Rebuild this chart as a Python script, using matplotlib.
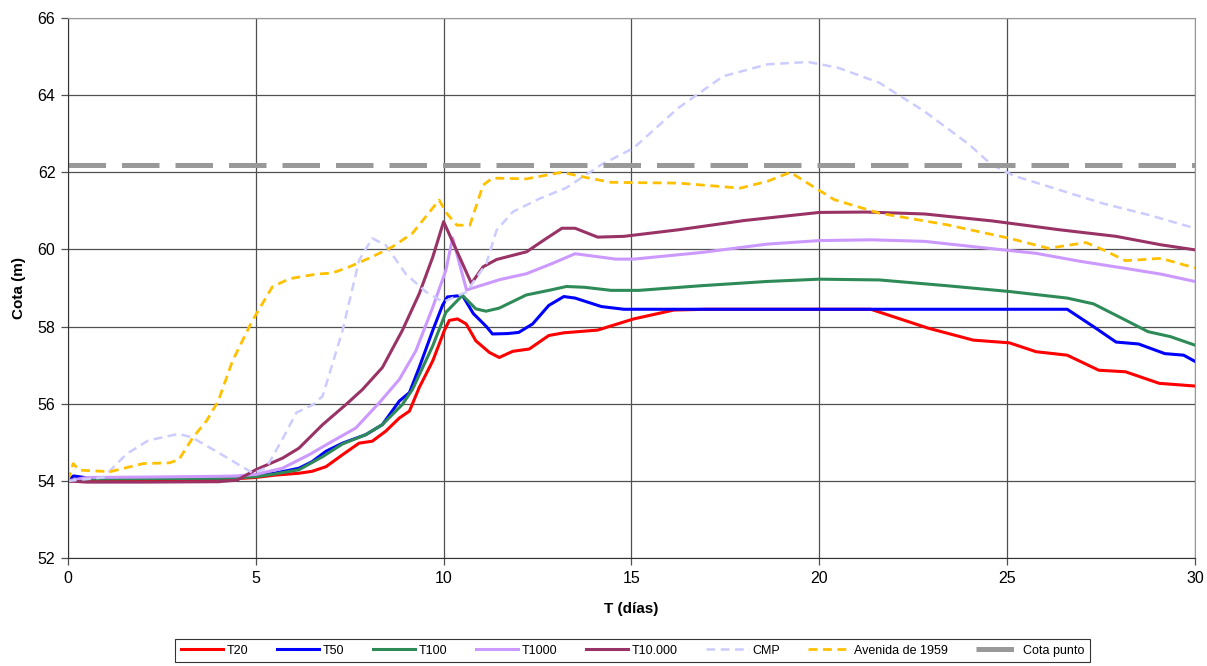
import matplotlib
matplotlib.use("Agg")
import matplotlib.pyplot as plt

plt.rcParams["font.family"] = ["Liberation Sans", "DejaVu Sans"]

# T20
t20_x = [0, 0.5, 2, 4, 4.5, 5, 5.5, 6.15, 6.5, 6.87, 7.31, 7.75, 8.1, 8.46, 8.82, 9.09, 9.35, 9.71,
         10.02, 10.15, 10.37, 10.6, 10.86, 11.22, 11.48, 11.84, 12.28, 12.8, 13.2, 14.1, 15.06, 16.13,
         17, 21.37, 22.9, 24.1, 25.06, 25.77, 26.6, 27.44, 28.15, 29.05, 30]
t20_y = [54.0, 54.02, 54.03, 54.04, 54.06, 54.09, 54.15, 54.2, 54.25, 54.37, 54.68, 54.98, 55.03, 55.29,
         55.63, 55.81, 56.42, 57.11, 57.9, 58.16, 58.2, 58.07, 57.63, 57.33, 57.2, 57.36, 57.42, 57.77,
         57.84, 57.91, 58.2, 58.43, 58.45, 58.45, 57.96, 57.65, 57.58, 57.35, 57.26, 56.87, 56.83, 56.53, 56.46]

# T50
t50_x = [0, 0.15, 0.5, 2, 4, 4.5, 5, 5.5, 6.15, 6.5, 6.87, 7.31, 7.93, 8.37, 8.82, 9.09, 9.35, 9.71,
         9.97, 10.1, 10.5, 10.79, 11.14, 11.3, 11.7, 12.0, 12.37, 12.8, 13.2, 13.5, 14.2, 14.8,
         26.6, 27.3, 27.9, 28.5, 29.2, 29.7, 30]
t50_y = [54.0, 54.13, 54.08, 54.08, 54.08, 54.1, 54.13, 54.2, 54.33, 54.5, 54.77, 54.98, 55.2, 55.46,
         56.07, 56.29, 56.94, 57.9, 58.55, 58.77, 58.81, 58.34, 58.0, 57.81, 57.82, 57.85, 58.07, 58.55,
         58.78, 58.74, 58.52, 58.45, 58.45, 58.0, 57.6, 57.55, 57.3, 57.26, 57.1]

# T100
t100_x = [0, 0.5, 2, 4, 4.5, 5, 5.5, 6.15, 6.78, 7.31, 7.93, 8.37, 8.9, 9.17, 9.71, 10.06, 10.5,
          10.86, 11.13, 11.48, 12.2, 12.8, 13.27, 13.75, 14.46, 15.2, 16.85, 18.6, 20, 21.6, 23.4,
          25.06, 26.6, 27.3, 28.15, 28.75, 29.35, 30]
t100_y = [54.0, 54.05, 54.06, 54.07, 54.08, 54.11, 54.18, 54.29, 54.63, 54.96, 55.2, 55.46, 55.98,
          56.37, 57.5, 58.37, 58.81, 58.46, 58.4, 58.48, 58.82, 58.94, 59.04, 59.02, 58.94, 58.94,
          59.06, 59.17, 59.23, 59.21, 59.06, 58.91, 58.74, 58.59, 58.17, 57.87, 57.74, 57.52]

# T1000
t1000_x = [0, 0.5, 2, 4, 4.5, 5, 5.71, 6.42, 7.04, 7.66, 8.29, 8.82, 9.26, 9.71, 10.06, 10.24, 10.61,
           11.5, 12.2, 12.9, 13.5, 14.58, 15.06, 16.85, 18.63, 20, 21.37, 22.8, 24.6, 25.77, 26.96,
           28.15, 29.1, 30]
t1000_y = [54.0, 54.09, 54.1, 54.12, 54.13, 54.17, 54.33, 54.68, 55.03, 55.37, 56.03, 56.63, 57.37,
           58.5, 59.46, 60.3, 58.95, 59.22, 59.37, 59.64, 59.89, 59.75, 59.75, 59.92, 60.14, 60.23,
           60.25, 60.21, 60.02, 59.9, 59.69, 59.51, 59.36, 59.17]

# T10.000
t10000_x = [0, 0.5, 2, 4, 4.5, 5, 5.71, 6.15, 6.78, 7.4, 7.84, 8.37, 8.9, 9.35, 9.71, 10.0, 10.74,
            11.05, 11.41, 12.21, 12.68, 13.15, 13.5, 14.1, 14.8, 16.25, 18.0, 20, 21.25, 22.8, 24.6,
            26.4, 27.9, 29.1, 30]
t10000_y = [54.0, 53.97, 53.97, 53.98, 54.02, 54.29, 54.59, 54.85, 55.46, 55.98, 56.37, 56.94, 57.9,
            58.85, 59.8, 60.72, 59.12, 59.55, 59.74, 59.94, 60.25, 60.55, 60.55, 60.32, 60.34, 60.51,
            60.75, 60.96, 60.97, 60.92, 60.74, 60.51, 60.34, 60.12, 59.99]

# CMP
cmp_x = [0, 0.94, 1.56, 2.14, 2.94, 3.3, 3.96, 4.93, 5.28, 5.73, 6.08, 6.53, 6.78, 7.31, 7.75, 8.1,
         8.46, 8.99, 9.53, 9.99, 10.61, 11.14, 11.41, 11.85, 12.56, 13.27, 14.2, 15.06, 16.25, 17.44,
         18.63, 19.7, 20.5, 21.6, 22.8, 23.99, 24.58, 25.18, 26.37, 27.56, 28.75, 30]
cmp_y = [54.0, 54.09, 54.7, 55.05, 55.22, 55.13, 54.76, 54.2, 54.34, 55.12, 55.77, 55.98, 56.2, 57.9,
         59.72, 60.29, 60.11, 59.37, 58.9, 58.64, 58.9, 59.64, 60.5, 60.98, 61.32, 61.6, 62.2, 62.63,
         63.67, 64.49, 64.8, 64.86, 64.71, 64.32, 63.58, 62.72, 62.2, 61.91, 61.55, 61.19, 60.9, 60.55]

# Avenida de 1959
av_x = [0, 0.14, 0.3, 1.12, 2.0, 2.7, 2.95, 3.33, 3.69, 4.0, 4.38, 4.91, 5.44, 5.89, 6.6, 7.04, 7.49,
        8.1, 8.64, 9.17, 9.88, 10.08, 10.35, 10.7, 11.05, 11.3, 12.2, 13.15, 13.87, 14.46, 16.25, 17.9,
        18.63, 19.23, 19.82, 20.4, 21.6, 23.4, 25.06, 26.1, 27.1, 27.56, 28.15, 29.1, 30]
av_y = [54.0, 54.45, 54.28, 54.24, 54.45, 54.47, 54.55, 55.13, 55.56, 56.07, 57.11, 58.16, 59.03, 59.24,
        59.36, 59.39, 59.55, 59.81, 60.07, 60.42, 61.28, 60.94, 60.63, 60.63, 61.67, 61.85, 61.83, 62.0,
        61.85, 61.74, 61.72, 61.59, 61.77, 62.0, 61.64, 61.29, 60.94, 60.64, 60.29, 60.03, 60.18, 59.99,
        59.71, 59.77, 59.52]

# Cota punto
cota_punto = 62.2

fig = plt.figure(figsize=(12.07, 6.66), dpi=100)
ax = fig.add_axes([0.0563, 0.162, 0.9337, 0.811])

ax.grid(True, color="#505050", linewidth=0.9)
ax.set_axisbelow(True)

ax.plot(t20_x, t20_y, color="#FF0000", lw=2.2, label="T20")
ax.plot(t50_x, t50_y, color="#0000FF", lw=2.2, label="T50")
ax.plot(t100_x, t100_y, color="#2E8B57", lw=2.2, label="T100")
ax.plot(t1000_x, t1000_y, color="#CC99FF", lw=2.2, label="T1000")
ax.plot(t10000_x, t10000_y, color="#993366", lw=2.2, label="T10.000")
ax.plot(cmp_x, cmp_y, color="#CCCCFF", lw=1.8, dashes=(3.5, 2.2), label="CMP")
ax.plot(av_x, av_y, color="#FFC000", lw=2.0, dashes=(3.2, 2.0), label="Avenida de 1959")
ax.axhline(cota_punto, color="#999999", lw=3.6, dashes=(7.5, 3.2), label="Cota punto")

ax.set_xlim(0, 30)
ax.set_ylim(52, 66)
ax.set_xticks(range(0, 31, 5))
ax.set_yticks(range(52, 67, 2))
ax.tick_params(labelsize=11.5, length=5, width=0.9, color="#505050", pad=4)

for side in ["top", "right"]:
    ax.spines[side].set_color("#999999")
for side in ["left", "bottom"]:
    ax.spines[side].set_color("#333333")

ax.set_xlabel("T (días)", fontsize=11, fontweight="bold", labelpad=12)
ax.set_ylabel("Cota (m)", fontsize=11, fontweight="bold", labelpad=8)

handles, labels = ax.get_legend_handles_labels()
leg = fig.legend(handles, labels, loc="lower center", bbox_to_anchor=(0.524, -0.004), ncol=8,
                 fontsize=9, frameon=True, fancybox=False, edgecolor="#000000",
                 handlelength=3.4, columnspacing=2.25, handletextpad=0.3, borderpad=0.45)
leg.get_frame().set_linewidth(0.8)

fig.savefig("out.png", dpi=100)
